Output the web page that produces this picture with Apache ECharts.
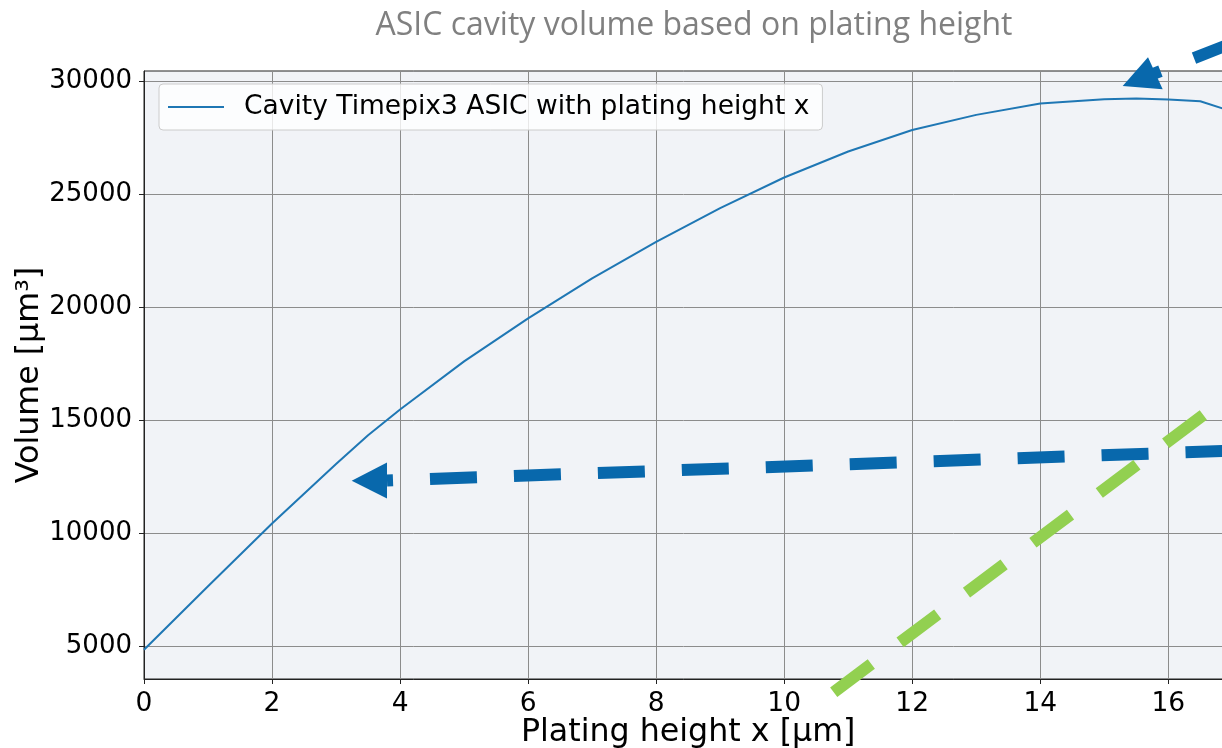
<!DOCTYPE html>
<html>
<head>
<meta charset="utf-8">
<script src="https://cdn.jsdelivr.net/npm/echarts@6/dist/echarts.min.js"></script>
<style>
  html, body { margin: 0; padding: 0; background: #ffffff; }
  #chart { width: 1222px; height: 748px; }
</style>
</head>
<body>
<div id="chart"></div>
<script>
// ---- data ----
const platingHeight = [0, 1, 2, 3, 3.5, 4, 5, 6, 7, 8, 9, 10, 11, 12, 13, 14, 15, 15.5, 16, 16.5, 17];
const cavityVolume  = [4850, 7660, 10430, 13060, 14330, 15470, 17600, 19500, 21270, 22880, 24380, 25730, 26880, 27830, 28500, 29000, 29190, 29220, 29180, 29100, 28650];
const xTicks = [0, 2, 4, 6, 8, 10, 12, 14, 16];
const yTicks = [5000, 10000, 15000, 20000, 25000, 30000];
const titleText = 'ASIC cavity volume based on plating height';
const seriesName = 'Cavity Timepix3 ASIC with plating height x';
const xName = 'Plating height x [µm]';
const yName = 'Volume [µm³]';

const FONT = 'DejaVu Sans';
const BLUE = '#0868ac';
const GREEN = '#92D050';

const chart = echarts.init(document.getElementById('chart'), null, { renderer: 'canvas' });

const option = {
  animation: false,
  backgroundColor: '#ffffff',
  title: {
    text: titleText,
    left: 689,
    textAlign: 'center',
    top: 5,
    textStyle: { fontFamily: 'Open Sans', fontSize: 32, fontWeight: 'normal', color: '#808080' }
  },
  legend: {
    left: 159,
    top: 84,
    orient: 'vertical',
    icon: 'rect',
    itemWidth: 56,
    itemHeight: 2,
    padding: [9.5, 13, 9.5, 9],
    backgroundColor: 'rgba(255,255,255,0.8)',
    borderColor: '#cccccc',
    borderWidth: 1,
    borderRadius: 4,
    textStyle: { fontFamily: FONT, fontSize: 26.5, color: '#000000', padding: [0, 0, 0, 15] },
    data: [seriesName]
  },
  grid: {
    left: 144,
    top: 71,
    width: 1088.3,
    height: 608,
    outerBoundsMode: 'none',
    containLabel: false,
    show: true,
    backgroundColor: '#f1f3f7',
    borderColor: '#222222',
    borderWidth: 1
  },
  xAxis: {
    type: 'value',
    min: 0,
    max: 17,
    name: xName,
    nameLocation: 'middle',
    nameGap: 38,
    nameMoveOverlap: false,
    nameTextStyle: { fontFamily: FONT, fontSize: 31.7, color: '#000000' },
    axisLine: { show: true, onZero: false, lineStyle: { color: '#222222', width: 1 } },
    axisTick: { show: true, inside: false, length: 5, customValues: xTicks, lineStyle: { color: '#222222' } },
    axisLabel: { show: true, customValues: xTicks, margin: 12, fontFamily: FONT, fontSize: 26.5, color: '#000000',
      formatter: v => String(v) },
    splitLine: { show: true, lineStyle: { color: '#8c8c8c', width: 1 } }
  },
  yAxis: {
    type: 'value',
    min: 3555,
    max: 30440,
    name: yName,
    nameLocation: 'middle',
    nameGap: 98,
    nameMoveOverlap: false,
    nameTextStyle: { fontFamily: FONT, fontSize: 31.7, color: '#000000' },
    axisLine: { show: true, onZero: false, lineStyle: { color: '#222222', width: 1 } },
    axisTick: { show: true, inside: false, length: 5, customValues: yTicks, lineStyle: { color: '#222222' } },
    axisLabel: { show: true, customValues: yTicks, margin: 12, fontFamily: FONT, fontSize: 26, color: '#000000',
      formatter: v => String(v) },
    splitLine: { show: true, lineStyle: { color: '#8c8c8c', width: 1 } }
  },
  series: [{
    name: seriesName,
    type: 'line',
    data: platingHeight.map((x, i) => [x, cavityVolume[i]]),
    showSymbol: false,
    symbol: 'none',
    smooth: false,
    lineStyle: { color: '#1f77b4', width: 2 },
    itemStyle: { color: '#1f77b4' },
    clip: true,
    z: 3
  }],
  graphic: [
    // horizontal blue dashed arrow
    { type: 'polyline', z: 100, shape: { points: [[387, 480.5], [1300, 448.3]] },
      style: { stroke: BLUE, lineWidth: 12, lineDash: [47, 37], lineDashOffset: 41, fill: null } },
    { type: 'polygon', z: 100, shape: { points: [[351.7, 480.7], [387, 462.5], [387, 498.5]] },
      style: { fill: BLUE } },
    // top-right blue dashed arrow
    { type: 'polyline', z: 100, shape: { points: [[1153, 74], [1293, 19.5]] },
      style: { stroke: BLUE, lineWidth: 12, lineDash: [47, 36], lineDashOffset: 39, fill: null } },
    { type: 'polygon', z: 100, shape: { points: [[1122.7, 86], [1148, 57.3], [1162.7, 89.3]] },
      style: { fill: BLUE } },
    // green dashed line
    { type: 'polyline', z: 100, shape: { points: [[1203.3, 415], [830, 695]] },
      style: { stroke: GREEN, lineWidth: 12, lineDash: [47, 36], lineDashOffset: 0, fill: null } }
  ]
};

chart.setOption(option);
</script>
</body>
</html>
